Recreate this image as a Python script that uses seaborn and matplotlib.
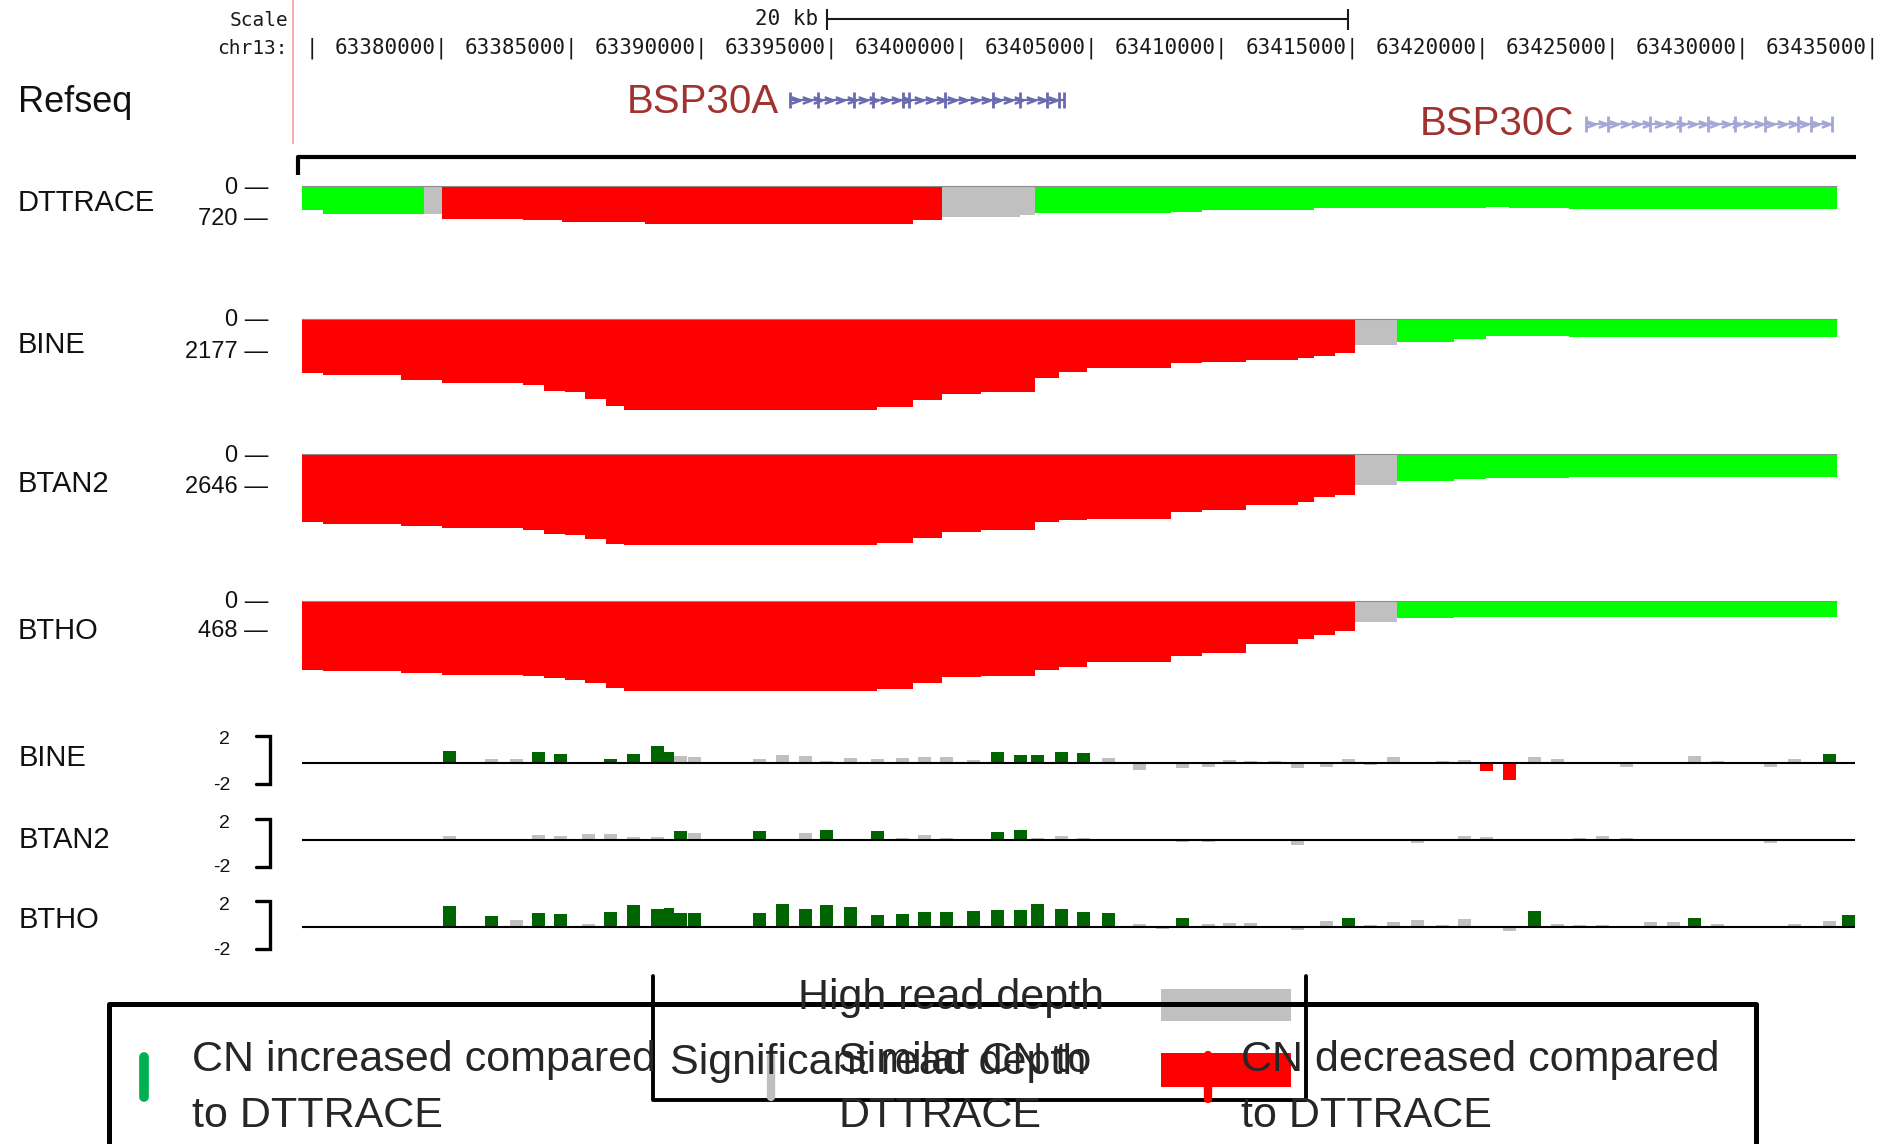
import numpy as np
import pandas as pd
import matplotlib
matplotlib.use('Agg')
import matplotlib.pyplot as plt
from matplotlib.patches import Rectangle
import seaborn as sns

W, H = 1885, 1144

# ---------------- data ----------------
CHROM = 'chr13:'
RULER_TICKS = [63375000, 63380000, 63385000, 63390000, 63395000, 63400000, 63405000,
               63410000, 63415000, 63420000, 63425000, 63430000, 63435000]
SCALE_BAR = (63394800, 63414800)   # 20 kb
VIEW = (63374530, 63434380)

BSP30A_EXONS = [63393360, 63394440, 63395820, 63396550, 63397700, 63397940, 63399320,
                63401170, 63402200, 63403240, 63403700, 63403890]
BSP30C_EXONS = [63423950, 63424800, 63426410, 63427570, 63428640, 63429680, 63430830,
                63432100, 63432600, 63433410]

# read depth of the reference sample
DT_EDGES = [63374600, 63375400, 63379300, 63380000, 63383100, 63384600, 63387800, 63398100,
            63399200, 63402200, 63402800, 63408000, 63409200, 63413500, 63420100, 63421000,
            63423300, 63433600]
DT_DEPTH = [523, 600, 600, 709, 741, 778, 828, 752, 669, 643, 595, 567, 523, 486, 451, 473, 501]
DT_CALL = ['up', 'up', 'high', 'down', 'down', 'down', 'down', 'down', 'high', 'high',
           'up', 'up', 'up', 'up', 'up', 'up', 'up']

# read depth of the other samples (common windows)
COV_EDGES = [63374600, 63375400, 63378400, 63380000, 63383100, 63383900, 63384700, 63385500,
             63386300, 63387000, 63396700, 63398100, 63399200, 63400700, 63402800, 63403700,
             63404800, 63408000, 63409200, 63410900, 63412900, 63413500, 63414300, 63415100,
             63416700, 63418900, 63420100, 63422600, 63423300, 63433600]
COV_CALL = ['down'] * 23 + ['high'] + ['up'] * 5
BINE_DEPTH = [3584, 3696, 4026, 4244, 4356, 4732, 4838, 5280, 5742, 6006, 5788, 5346, 4950,
              4798, 3914, 3478, 3254, 2884, 2818, 2706, 2594, 2422, 2264, 1716, 1498, 1340,
              1102, 1122, 1208]
BTAN2_DEPTH = [5478, 5590, 5774, 5911, 6095, 6392, 6520, 6841, 7194, 7298, 7162, 6713, 6280,
               6095, 5478, 5317, 5213, 4628, 4491, 4090, 3826, 3473, 3288, 2486, 2165, 2029,
               1901, 1901, 1869]
BTHO_DEPTH = [1076, 1097, 1128, 1159, 1175, 1197, 1232, 1284, 1362, 1399, 1368, 1284, 1190,
              1170, 1076, 1025, 947, 858, 807, 671, 597, 530, 468, 323, 270, 254, 245, 245, 245]

# log2 ratio windows
BAR_START = [63380020, 63381640, 63382600, 63383440, 63384290, 63385370, 63386210, 63387100,
             63388020, 63388520, 63388900, 63389440, 63391940, 63392820, 63393710, 63394520,
             63395440, 63396480, 63397440, 63398280, 63399130, 63400170, 63401090, 63401970,
             63402630, 63403550, 63404390, 63405360, 63406550, 63407430, 63408200, 63409200,
             63410010, 63410810, 63411740, 63412620, 63413740, 63414580, 63415430, 63416310,
             63417230, 63418190, 63419040, 63419890, 63420770, 63421730, 63422610, 63423460,
             63424340, 63425270, 63426190, 63427070, 63427880, 63428770, 63430800, 63431720,
             63433070, 63433800]
BAR_WIDTH = 500
BINE_LOG2 = [1.03, 0.36, 0.36, 0.94, 0.78, 0.11, 0.36, 0.78, 1.44, 0.94,
             0.61, 0.53, 0.36, 0.73, 0.61, 0.19, 0.44, 0.36, 0.44, 0.53,
             0.53, 0.28, 0.94, 0.69, 0.69, 0.94, 0.86, 0.44, -0.56, 0.11,
             -0.36, -0.28, 0.28, 0.19, 0.19, -0.36, -0.28, 0.36, -0.14, 0.53,
             0.11, 0.19, 0.28, -0.61, -1.39, 0.53, 0.36, 0.11, 0.11, -0.28,
             0.11, 0.11, 0.61, 0.19, -0.28, 0.36, 0.78, 0.11]
BINE_CALL = 'gssggsgggg' + 'ssssssssssss' + 'ggggg' + 'ssssssssssssssss' + 'rr' + 'sssssssssss' + 'gs'
BTAN2_LOG2 = [0.33, 0, 0, 0.42, 0.33, 0.5, 0.5, 0.25, 0.25, 0,
              0.75, 0.58, 0.75, 0.08, 0.58, 0.83, 0.08, 0.75, 0.17, 0.42,
              0.17, 0.08, 0.67, 0.83, 0.17, 0.33, 0.17, 0.08, 0, 0.08,
              -0.14, -0.14, 0.08, 0, 0, -0.42, 0.08, 0, 0.08, 0,
              -0.22, 0.08, 0.33, 0.25, 0, 0, 0, 0.17, 0.33, 0.17,
              0, 0.08, 0.08, 0.08, -0.22, 0.08, 0, 0.08]
BTAN2_CALL = 'ssssssssss' + 'gsgssgsg' + 'ssss' + 'gg' + 's' * 34
BTHO_LOG2 = [1.78, 0.94, 0.61, 1.19, 1.11, 0.28, 1.28, 1.86, 1.53, 1.61,
             1.19, 1.19, 1.19, 1.94, 1.53, 1.86, 1.69, 1.03, 1.11, 1.28,
             1.28, 1.36, 1.44, 1.44, 1.94, 1.53, 1.28, 1.19, 0.28, -0.14,
             0.78, 0.28, 0.36, 0.36, 0.11, -0.22, 0.53, 0.78, 0.19, 0.44,
             0.61, 0.19, 0.69, 0.11, -0.31, 1.36, 0.28, 0.19, 0.19, 0.11,
             0.44, 0.44, 0.78, 0.28, 0.11, 0.28, 0.53, 1.03]
BTHO_CALL = 'ggsggs' + 'g' * 22 + 'ss' + 'g' + 'ssssss' + 'g' + 'sssssss' + 'g' + 'ssssss' + 'g' + 'ssss' + 'g'

COV_COLORS = {'up': '#00ff00', 'down': '#ff0000', 'high': '#c0c0c0'}
BAR_COLORS = {'g': '#006400', 's': '#c0c0c0', 'r': '#ff0000'}

# ---------------- style ----------------
sns.set_style('white')
FONT = ['Liberation Sans Narrow', 'Liberation Sans', 'DejaVu Sans']
MONO = ['DejaVu Sans Mono']
plt.rcParams['font.family'] = FONT

fig = plt.figure(figsize=(W / 100, H / 100), dpi=100)


def px_axes(x0, y0, x1, y1):
    ax = fig.add_axes([x0 / W, 1 - y1 / H, (x1 - x0) / W, (y1 - y0) / H])
    ax.set_axis_off()
    return ax


def draw_bins(ax, edges, values, calls, palette):
    edges = [float(e) for e in edges]
    mids = [(a + b) / 2 for a, b in zip(edges[:-1], edges[1:])]
    df = pd.DataFrame({'mid': mids, 'val': values, 'call': list(calls)})
    sns.histplot(data=df, x='mid', weights='val', hue='call', palette=palette, bins=edges,
                 multiple='layer', alpha=1, linewidth=0, antialiased=False,
                 legend=False, ax=ax)


def draw_bars(ax, values, calls):
    starts = np.asarray(BAR_START, float)
    ends = np.minimum(starts + BAR_WIDTH, np.r_[starts[1:], np.inf])
    edges = [float(e) for e in np.unique(np.r_[starts, ends])]
    df = pd.DataFrame({'mid': (starts + ends) / 2, 'val': values, 'call': list(calls)})
    sns.histplot(data=df, x='mid', weights='val', hue='call', palette=BAR_COLORS, bins=edges,
                 multiple='layer', alpha=1, linewidth=0, antialiased=False,
                 legend=False, ax=ax)


# pixel overlay for labels and legend
pix = px_axes(0, 0, W, H)
pix.set_xlim(0, W)
pix.set_ylim(H, 0)

# ---------------- ruler + genes ----------------
top = px_axes(300, 0, 1857, 180)
top.set_xlim(VIEW)
top.set_ylim(180, 0)

pix.text(288, 21, 'Scale', ha='right', va='center', family=MONO, fontsize=14, color='#1a1a1a')
pix.text(288, 48, CHROM, ha='right', va='center', family=MONO, fontsize=14, color='#1a1a1a')
for t in RULER_TICKS:
    lab = '|' if t == RULER_TICKS[0] else f'{t}|'
    top.text(t + 230, 48, lab, ha='right', va='center', family=MONO, fontsize=15, color='#1a1a1a')
top.hlines(19, *SCALE_BAR, color='#1a1a1a', lw=1.5)
top.vlines(SCALE_BAR, 9, 30, color='#1a1a1a', lw=1.5)
top.text(SCALE_BAR[0] - 350, 19, '20 kb', ha='right', va='center', family=MONO,
         fontsize=15, color='#1a1a1a')
pix.vlines(293, 0, 144, color='#f2a0a0', lw=1.2)
pix.text(18, 102, 'Refseq', va='center', fontsize=26, color='#111111')


def draw_gene(exons, y, color):
    top.hlines(y, exons[0], exons[-1], color=color, lw=1.6)
    chev = np.arange(exons[0] + 220, exons[-1] - 100, 430)
    top.plot(chev, [y] * len(chev), ls='none', marker='$>$', ms=6, color=color)
    top.vlines(exons, y - 8, y + 8, color=color, lw=2)


draw_gene(BSP30A_EXONS, 100, '#6a6ab0')
draw_gene(BSP30C_EXONS, 124, '#a6a6d6')
top.text(BSP30A_EXONS[0] - 420, 102, 'BSP30A', ha='right', va='center', fontsize=29, color='#a0322f')
top.text(BSP30C_EXONS[0] - 420, 124, 'BSP30C', ha='right', va='center', fontsize=29, color='#a0322f')

# black bracket above the tracks
top.plot([63374450, 63374450, 63434350], [175, 157.5, 157.5], color='black', lw=3,
         clip_on=False, solid_capstyle='butt')

# ---------------- read depth tracks ----------------
TRACKS = [
    ('DTTRACE', 186, 21.8, 720, DT_EDGES, DT_DEPTH, DT_CALL, 203),
    ('BINE', 319, 66.0, 2177, COV_EDGES, BINE_DEPTH, COV_CALL, 345),
    ('BTAN2', 454, 80.2, 2646, COV_EDGES, BTAN2_DEPTH, COV_CALL, 484),
    ('BTHO', 601, 15.6, 468, COV_EDGES, BTHO_DEPTH, COV_CALL, 631),
]
for name, y0, k, tick, edges, depth, call, ly in TRACKS:
    ax = px_axes(300, y0, 1857, y0 + 100)
    draw_bins(ax, edges, depth, call, COV_COLORS)
    ax.hlines(0, edges[0], edges[-1], color='#8c8c8c', lw=0.8, clip_on=False)
    ax.set_xlim(VIEW)
    ax.set_ylim(100 * k, 0)
    ax.set_axis_off()
    pix.text(18, ly, name, va='center', fontsize=21, color='#111111')
    pix.text(268, y0 + 1.5, '0 —', ha='right', va='center', fontsize=17, color='#111111')
    pix.text(268, y0 + tick / k, f'{tick} —', ha='right', va='center', fontsize=17, color='#111111')

# ---------------- log2 ratio tracks ----------------
BAR_TRACKS = [
    ('BINE', 763.3, BINE_LOG2, BINE_CALL, 758, 735.7, 784.3),
    ('BTAN2', 840.0, BTAN2_LOG2, BTAN2_CALL, 840, 819.0, 866.7),
    ('BTHO', 927.3, BTHO_LOG2, BTHO_CALL, 920, 901.0, 949.3),
]
for name, base, vals, call, ly, bt, bb in BAR_TRACKS:
    ax = px_axes(300, base - 30, 1857, base + 30)
    draw_bars(ax, vals, call)
    ax.hlines(0, 63374600, 63434300, color='black', lw=1.5)
    ax.set_xlim(VIEW)
    ax.set_ylim(-2.5, 2.5)
    ax.set_axis_off()
    pix.text(19, ly, name, va='center', fontsize=21, color='#111111')
    pix.plot([256, 270, 270, 256], [bt, bt, bb, bb], color='black', lw=2.4,
             solid_joinstyle='miter')
    pix.text(230, bt + 4, '2', ha='right', va='center', fontsize=14, color='#111111')
    pix.text(230, bb + 1, '-2', ha='right', va='center', fontsize=14, color='#111111')

# ---------------- legend ----------------
pix.plot([109, 109, 1756, 1756], [1160, 1004, 1004, 1160], color='black', lw=3.6, clip_on=False)
pix.plot([653, 653, 1306, 1306], [976, 1100, 1100, 976], color='black', lw=2.8)
pix.add_patch(Rectangle((1161, 989), 130, 32, color='#c0c0c0', lw=0))
pix.add_patch(Rectangle((1161, 1053), 130, 34, color='#ff0000', lw=0))
LEG = 31
pix.text(192, 1060, 'CN increased compared', va='center', fontsize=LEG)
pix.text(192, 1116, 'to DTTRACE', va='center', fontsize=LEG)
pix.text(798, 998, 'High read depth', va='center', fontsize=LEG)
pix.text(670, 1063, 'Significant read depth', va='center', fontsize=LEG)
pix.text(838, 1061, 'Similar CN to', va='center', fontsize=LEG)
pix.text(838, 1116, 'DTTRACE', va='center', fontsize=LEG)
pix.text(1241, 1060, 'CN decreased compared', va='center', fontsize=LEG)
pix.text(1241, 1116, 'to DTTRACE', va='center', fontsize=LEG)
pix.plot([144, 144], [1057, 1097], color='#00b050', lw=7, solid_capstyle='round')
pix.plot([771, 771], [1057, 1097], color='#bfbfbf', lw=6, solid_capstyle='round')
pix.plot([1208, 1208], [1055, 1099], color='#ff0000', lw=6, solid_capstyle='round')

fig.savefig('out.png', dpi=100)
